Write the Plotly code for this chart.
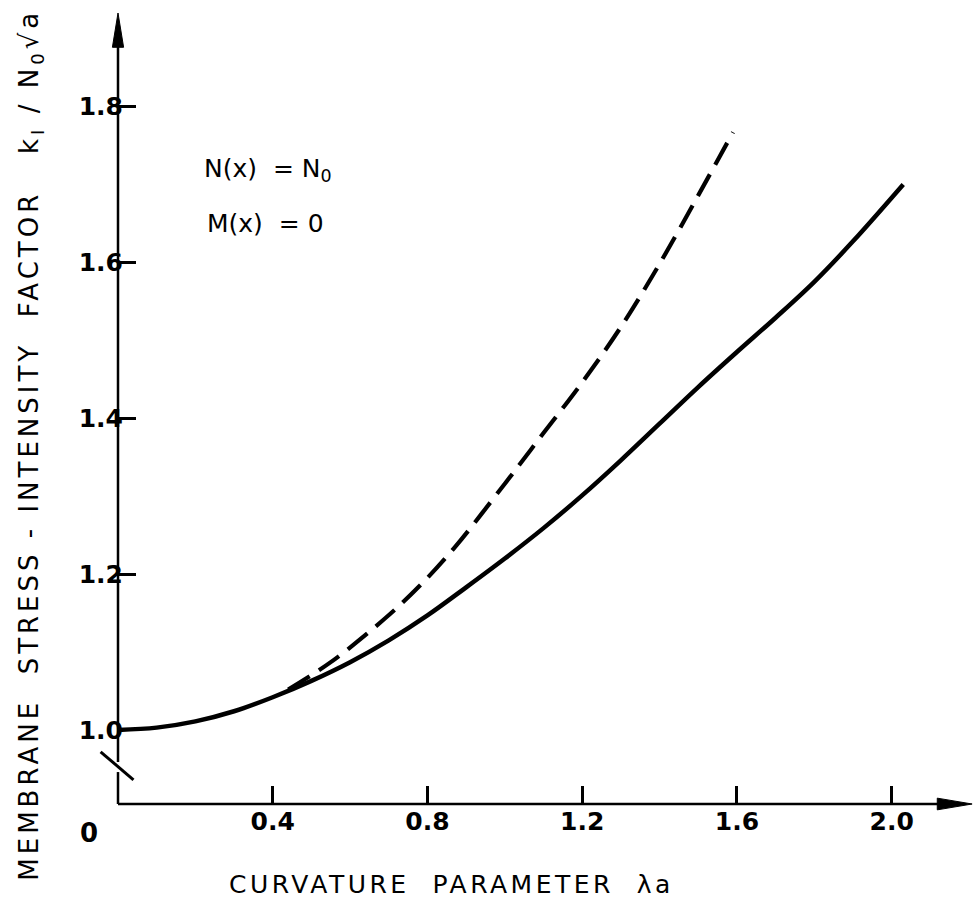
import plotly.graph_objects as go

# ---- data ----
solid_x = [0.0, 0.1, 0.2, 0.3, 0.4, 0.5, 0.6, 0.7, 0.8, 0.9, 1.0, 1.1, 1.2, 1.3, 1.4, 1.5, 1.6, 1.7, 1.8, 1.9, 2.03]
solid_y = [1.0, 1.003, 1.011, 1.024, 1.042, 1.063, 1.087, 1.115, 1.147, 1.183, 1.220, 1.259, 1.301, 1.346, 1.393, 1.440, 1.485, 1.529, 1.575, 1.627, 1.70]

dashed_x = [0.44, 0.55, 0.69, 0.78, 0.87, 1.0, 1.1, 1.2, 1.3, 1.4, 1.5, 1.59]
dashed_y = [1.052, 1.087, 1.143, 1.185, 1.234, 1.316, 1.381, 1.446, 1.517, 1.598, 1.686, 1.767]

x_ticks = [0.4, 0.8, 1.2, 1.6, 2.0]
x_tick_labels = ["0.4", "0.8", "1.2", "1.6", "2.0"]
y_ticks = [1.0, 1.2, 1.4, 1.6, 1.8]
y_tick_labels = ["1.0", "1.2", "1.4", "1.6", "1.8"]

X_RANGE = [0.0, 2.2]
Y_RANGE = [0.905, 1.92]

FONT = "DejaVu Sans"

def px(x):
    return (x - X_RANGE[0]) / (X_RANGE[1] - X_RANGE[0])

def py(y):
    return (y - Y_RANGE[0]) / (Y_RANGE[1] - Y_RANGE[0])

fig = go.Figure()
fig.add_trace(go.Scatter(x=solid_x, y=solid_y, mode="lines",
                         line=dict(color="black", width=4.5, shape="spline", smoothing=1.0),
                         showlegend=False, hoverinfo="skip"))
fig.add_trace(go.Scatter(x=dashed_x, y=dashed_y, mode="lines",
                         line=dict(color="black", width=4.2, dash="25px,11px", shape="spline", smoothing=1.0),
                         showlegend=False, hoverinfo="skip"))

shapes = []
lw = 2.5
# x axis line
shapes.append(dict(type="line", xref="paper", yref="paper",
                   x0=px(0), y0=0, x1=px(2.17), y1=0,
                   line=dict(color="black", width=lw)))
# x arrow head
shapes.append(dict(type="path", xref="paper", yref="paper",
                   path=f"M {px(2.118)} {py(0.905+0.0075)} L {px(2.208)} 0 L {px(2.118)} {py(0.905-0.0075)} Z",
                   fillcolor="black", line=dict(color="black", width=1)))
# y axis line (broken)
shapes.append(dict(type="line", xref="paper", yref="paper",
                   x0=0, y0=0, x1=0, y1=py(0.946),
                   line=dict(color="black", width=lw)))
shapes.append(dict(type="line", xref="paper", yref="paper",
                   x0=0, y0=py(0.959), x1=0, y1=py(1.88),
                   line=dict(color="black", width=lw)))
# y arrow head
shapes.append(dict(type="path", xref="paper", yref="paper",
                   path=f"M {px(-0.0145)} {py(1.876)} L 0 1 L {px(0.0145)} {py(1.876)} Z",
                   fillcolor="black", line=dict(color="black", width=1)))
# axis break slash
shapes.append(dict(type="line", xref="paper", yref="paper",
                   x0=px(-0.045), y0=py(0.972), x1=px(0.04), y1=py(0.936),
                   line=dict(color="black", width=3)))

annotations = [
    dict(text="0", x=px(-0.075), y=0, xref="paper", yref="paper",
         xanchor="center", yanchor="top", yshift=-12, showarrow=False,
         font=dict(family=FONT, size=26, color="black", weight="bold")),
    dict(text='<span style="letter-spacing:3.5px">CURVATURE  PARAMETER  λa</span>',
         x=px(0.862), y=0, xref="paper", yref="paper",
         xanchor="center", yanchor="middle", yshift=-80, showarrow=False,
         font=dict(family=FONT, size=25, color="black")),
    dict(text='<span style="letter-spacing:4px">MEMBRANE  STRESS - INTENSITY  FACTOR   k<sub>I</sub> / N<sub>0</sub>√a</span>',
         x=px(-0.225), y=py(1.366), xref="paper", yref="paper",
         xanchor="center", yanchor="middle", textangle=-90, showarrow=False,
         font=dict(family=FONT, size=26, color="black")),
    dict(text="N(x)  = N<sub>0</sub>", x=px(0.218), y=py(1.719), xref="paper", yref="paper",
         xanchor="left", yanchor="middle", showarrow=False,
         font=dict(family=FONT, size=25, color="black")),
    dict(text="M(x)  = 0", x=px(0.225), y=py(1.650), xref="paper", yref="paper",
         xanchor="left", yanchor="middle", showarrow=False,
         font=dict(family=FONT, size=25, color="black")),
]

fig.update_layout(
    width=974, height=901, autosize=False,
    margin=dict(l=117.5, r=5, t=13, b=97),
    paper_bgcolor="white", plot_bgcolor="white",
    shapes=shapes, annotations=annotations,
    showlegend=False,
)
fig.update_xaxes(range=X_RANGE, showgrid=False, zeroline=False, showline=False,
                 tickvals=x_ticks, ticktext=x_tick_labels, ticks="inside",
                 ticklen=18, tickwidth=2.5, tickcolor="black",
                 tickfont=dict(family=FONT, size=25, color="black", weight="bold"))
fig.update_yaxes(range=Y_RANGE, showgrid=False, zeroline=False, showline=False,
                 tickvals=y_ticks, ticktext=y_tick_labels, ticks="inside",
                 ticklen=18, tickwidth=2.5, tickcolor="black", ticklabelstandoff=-6,
                 tickfont=dict(family=FONT, size=25, color="black", weight="bold"))

fig.write_html("out.html")
